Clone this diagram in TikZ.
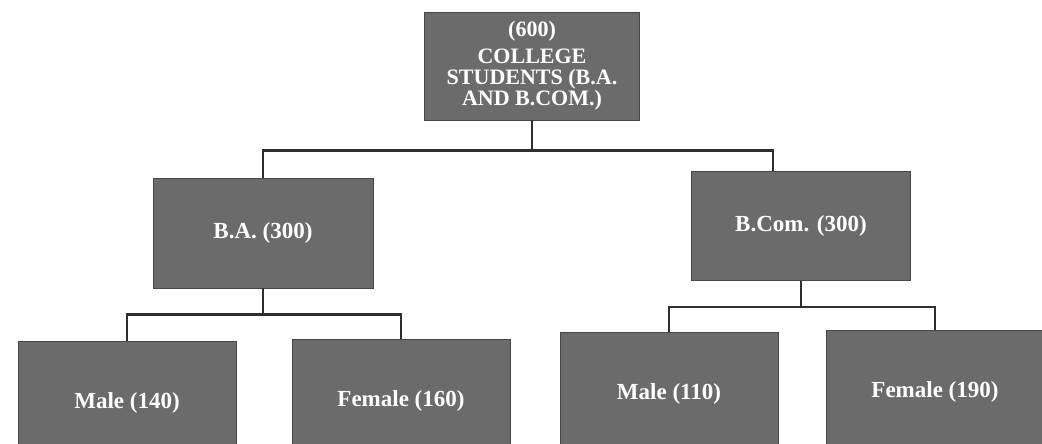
\documentclass[tikz,border=0pt]{standalone}
\usepackage{fontspec}
\setmainfont{Liberation Serif}
\begin{document}
\begin{tikzpicture}[x=1pt,y=-1pt,
	box/.style={draw=black!72,line width=0.8pt,fill=black!58,text=white,font=\bfseries\fontsize{23}{24}\selectfont,align=center,inner sep=0pt},
	link/.style={draw=black!82,line width=2.6pt}]
		\clip (0,0) rectangle (1042,444);
		\fill[white] (0,0) rectangle (1042,444);
		\node[box,minimum width=215pt,minimum height=108pt,font=\bfseries\fontsize{22}{21}\selectfont] (root) at (532,66) {(600)\\[6pt]COLLEGE\\STUDENTS (B.A.\\AND B.COM.)};
		\node[box,minimum width=220pt,minimum height=110pt] (ba) at (263,233) {B.A. (300)};
		\node[box,minimum width=219pt,minimum height=109pt] (bcom) at (801,226) {B.Com. (300)};
		\foreach \nm/\nhan/\x/\y in {m1/Male (140)/127/403,f1/Female (160)/401/401,m2/Male (110)/669/394,f2/Female (190)/935/392}
		\node[box,minimum width=218pt,minimum height=124pt] (\nm) at (\x,\y) {\nhan};
		\draw[link] (root.south) -- ++(0,30) coordinate (rb);
		\draw[link] (ba.north) |- (rb) -| ([xshift=-28pt]bcom.north);
		\draw[link] (ba.south) -- ++(0,26) coordinate (bab);
		\draw[link] (m1.north) |- (bab) -| (f1.north);
		\draw[link] (bcom.south) -- ++(0,26) coordinate (bcb);
		\draw[link] (m2.north) |- (bcb) -| (f2.north);
	\end{tikzpicture}
\end{document}
